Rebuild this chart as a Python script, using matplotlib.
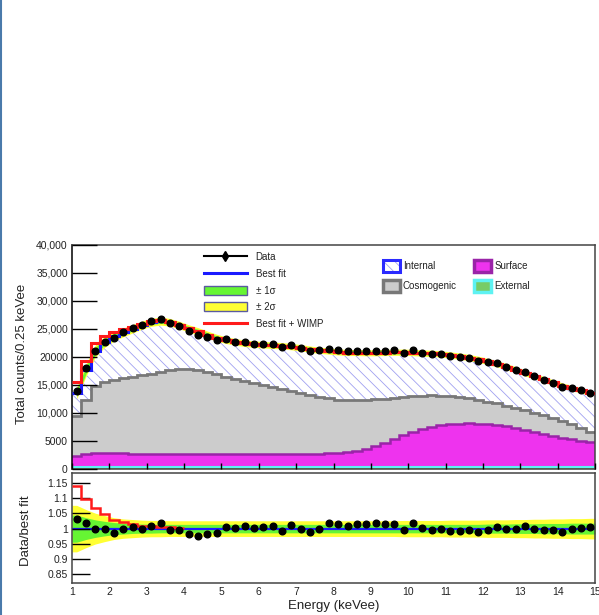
import numpy as np
import matplotlib
matplotlib.use("Agg")
import matplotlib.pyplot as plt
from matplotlib.patches import Rectangle
from matplotlib.lines import Line2D
from matplotlib.legend_handler import HandlerTuple

plt.rcParams['font.family'] = ['Liberation Sans', 'DejaVu Sans']
plt.rcParams['hatch.linewidth'] = 0.6

# ---- binning: 0.25 keVee bins from 1 to 15 keVee ----
bin_edges = np.arange(1.0, 15.0 + 1e-9, 0.25)
bin_centers = 0.5 * (bin_edges[:-1] + bin_edges[1:])

# ---- measured spectrum (counts per bin) ----
data_counts = [13980, 18000, 21100, 22700, 23320, 24400, 25200, 25700, 26440, 26850, 26120, 25620,
               24620, 23990, 23540, 23120, 23140, 22750, 22650, 22350, 22330, 22300, 21850, 22110,
               21590, 21140, 21180, 21470, 21190, 20990, 21150, 21060, 21140, 21090, 21200, 20750,
               21200, 20760, 20530, 20550, 20190, 19990, 19800, 19370, 19100, 18880, 18300, 17730,
               17300, 16580, 15920, 15360, 14720, 14450, 14090, 13630]

# ---- background model components (counts per bin) ----
external_counts = [400, 400, 400, 400, 400, 400, 400, 400, 400, 400, 400, 400,
                   400, 400, 400, 400, 400, 400, 400, 400, 400, 400, 400, 400,
                   400, 400, 400, 400, 400, 400, 400, 400, 400, 400, 400, 400,
                   400, 400, 400, 400, 400, 400, 400, 400, 400, 400, 400, 400,
                   400, 400, 400, 400, 400, 400, 400, 400]
surface_counts = [2000, 2350, 2450, 2450, 2400, 2400, 2350, 2350, 2300, 2300, 2250, 2250,
                  2200, 2200, 2200, 2200, 2200, 2200, 2250, 2250, 2250, 2300, 2300, 2300,
                  2300, 2350, 2350, 2400, 2450, 2550, 2800, 3150, 3650, 4250, 4950, 5650,
                  6250, 6750, 7150, 7400, 7600, 7700, 7750, 7700, 7600, 7450, 7200, 6950,
                  6600, 6250, 5900, 5550, 5200, 4900, 4650, 4350]
cosmogenic_counts = [7000, 9500, 12050, 12650, 13150, 13450, 13750, 13950, 14300, 14600, 14950, 15250,
                     15300, 15100, 14700, 14300, 13850, 13450, 13000, 12700, 12350, 11950, 11600, 11300,
                     10850, 10500, 10100, 9800, 9550, 9300, 9050, 8800, 8400, 7900, 7350, 6800,
                     6350, 5950, 5600, 5300, 4950, 4700, 4450, 4250, 4050, 3850, 3700, 3550,
                     3450, 3400, 3300, 3200, 3050, 2750, 2350, 1850]
internal_counts = [4160, 5410, 6200, 7200, 7750, 8150, 8550, 9000, 9200, 9100, 8600, 7800,
                   7200, 6900, 6700, 6550, 6550, 6650, 6800, 6950, 7200, 7450, 7700, 7850,
                   8100, 8150, 8350, 8450, 8500, 8550, 8550, 8400, 8300, 8250, 8150, 8000,
                   7800, 7600, 7500, 7450, 7400, 7350, 7300, 7250, 7150, 7100, 7000, 6850,
                   6700, 6550, 6400, 6300, 6250, 6400, 6650, 6950]

# ---- WIMP signal added on top of the best fit (counts per bin) ----
wimp_counts = [1925, 1713, 1414, 1067, 711, 512, 351, 231, 183, 132, 105, 77] + [0] * 44

# ---- relative uncertainty of the best fit (fractional half-widths) ----
band_1sigma = [0.045, 0.036, 0.029, 0.024, 0.020, 0.018, 0.016, 0.015, 0.015, 0.014, 0.014, 0.014,
               0.014, 0.014, 0.014, 0.014, 0.014, 0.014, 0.014, 0.014, 0.014, 0.014, 0.014, 0.014,
               0.014, 0.014, 0.014, 0.014, 0.014, 0.014, 0.014, 0.014, 0.014, 0.014, 0.014, 0.014,
               0.014, 0.014, 0.014, 0.014, 0.014, 0.014, 0.014, 0.014, 0.015, 0.015, 0.015, 0.016,
               0.016, 0.016, 0.017, 0.017, 0.017, 0.018, 0.018, 0.018]
band_2sigma = [0.077, 0.063, 0.051, 0.043, 0.036, 0.032, 0.030, 0.028, 0.027, 0.027, 0.026, 0.026,
               0.026, 0.026, 0.026, 0.026, 0.026, 0.026, 0.026, 0.026, 0.026, 0.026, 0.026, 0.026,
               0.026, 0.026, 0.026, 0.026, 0.026, 0.026, 0.026, 0.026, 0.026, 0.026, 0.026, 0.027,
               0.027, 0.027, 0.027, 0.027, 0.028, 0.028, 0.028, 0.028, 0.029, 0.029, 0.029, 0.030,
               0.030, 0.031, 0.031, 0.032, 0.032, 0.033, 0.033, 0.034]

# ---- axis ticks ----
count_ticks = [0, 5000, 10000, 15000, 20000, 25000, 30000, 35000, 40000]
count_tick_labels = ["0", "5000", "10,000", "15,000", "20000", "25,000", "30,000", "35,000", "40,000"]
ratio_ticks = [0.85, 0.9, 0.95, 1.0, 1.05, 1.1, 1.15]
ratio_tick_labels = ["0.85", "0.9", "0.95", "1", "1.05", "1.1", "1.15"]
energy_ticks = list(range(1, 16))

# ---- colours ----
C_GREEN = '#66f533'
C_YELLOW = '#ffff33'
C_BLUE = '#1a1aff'
C_RED = '#ff1a1a'
C_HATCH = '#a0a0f0'
C_GRAY_FILL = '#cccccc'
C_GRAY_EDGE = '#787878'
C_MAG_FILL = '#ee33ee'
C_MAG_EDGE = '#9a24a8'
C_EXT_FILL = '#77cc66'
C_EXT_EDGE = '#5ef2f2'
C_TEXT = '#222222'
C_FRAME = '#444444'

ext = np.array(external_counts, float)
surf_top = ext + np.array(surface_counts, float)
cosmo_top = surf_top + np.array(cosmogenic_counts, float)
best_fit = cosmo_top + np.array(internal_counts, float)
wimp = np.array(wimp_counts, float)
fit_wimp = best_fit + wimp
data = np.array(data_counts, float)
b1 = np.array(band_1sigma)
b2 = np.array(band_2sigma)

W, H = 599, 615
fig = plt.figure(figsize=(W / 100, H / 100), dpi=100)


def axes_px(left, top, right, bottom):
    return fig.add_axes([left / W, 1 - bottom / H, (right - left) / W, (bottom - top) / H])


ax = axes_px(72, 245, 595, 469)
axr = axes_px(72, 473.3, 595, 582.7)

# ---------------- upper panel: spectrum ----------------
ax.stairs(best_fit, bin_edges, baseline=cosmo_top, fill=True, facecolor='none',
          edgecolor=C_HATCH, hatch='\\\\\\', linewidth=0, zorder=1.0)
ax.stairs(cosmo_top, bin_edges, baseline=0, fill=True, color=C_GRAY_FILL, zorder=1.1)
ax.stairs(cosmo_top, bin_edges, baseline=None, color=C_GRAY_EDGE, lw=2.0, zorder=1.2)
ax.stairs(surf_top, bin_edges, baseline=0, fill=True, color=C_MAG_FILL, zorder=1.3)
ax.stairs(surf_top, bin_edges, baseline=None, color=C_MAG_EDGE, lw=1.8, zorder=1.4)
ax.stairs(ext, bin_edges, baseline=0, fill=True, color=C_EXT_FILL, zorder=1.5)
ax.stairs(ext, bin_edges, baseline=None, color=C_EXT_EDGE, lw=1.5, zorder=1.6)

ax.fill_between(bin_centers, best_fit * (1 - b2), best_fit * (1 + b2), color=C_YELLOW, lw=0, zorder=2.0)
ax.fill_between(bin_centers, best_fit * (1 - b1), best_fit * (1 + b1), color=C_GREEN, lw=0, zorder=2.1)
ax.stairs(best_fit, bin_edges, baseline=None, color=C_BLUE, lw=2.2, zorder=3.0)
ax.stairs(fit_wimp, bin_edges, baseline=None, color=C_RED, lw=2.2, zorder=3.1)
ax.plot(bin_centers, data, 'o', color='black', ms=4.8, zorder=4)

ax.set_xlim(1, 15)
ax.set_ylim(0, 40000)
ax.set_yticks(count_ticks)
ax.set_yticklabels(count_tick_labels)
ax.set_xticks(energy_ticks)
ax.tick_params(axis='y', direction='in', length=18, width=1.0, labelsize=7.5,
               pad=3, colors='black', labelcolor=C_TEXT)
ax.tick_params(axis='x', direction='in', length=4, width=1.0, labelbottom=False, colors='black')
ax.set_axisbelow(False)
for s in ax.spines.values():
    s.set_color(C_FRAME)
    s.set_linewidth(1.1)
ax.spines['left'].set_color('black')

# legends
h_data = Line2D([], [], color='black', lw=1.5, marker='d', ms=5)
h_fit = Line2D([], [], color=C_BLUE, lw=2.2)
h_1s = Rectangle((0, 0), 1, 1, facecolor=C_GREEN, edgecolor='#5a5aa0', lw=1.0)
h_2s = Rectangle((0, 0), 1, 1, facecolor=C_YELLOW, edgecolor='#5a5aa0', lw=1.0)
h_wimp = Line2D([], [], color=C_RED, lw=2.2)
leg1 = ax.legend([h_data, h_fit, h_1s, h_2s, h_wimp],
                 ['Data', 'Best fit', '± 1σ', '± 2σ', 'Best fit + WIMP'],
                 loc='upper left', bbox_to_anchor=(204 / W, 1 - 252.3 / H),
                 bbox_transform=fig.transFigure, frameon=False, fontsize=7,
                 handlelength=4.4, handleheight=1.1, handletextpad=0.9,
                 labelspacing=0.68, borderpad=0, borderaxespad=0)
for t in leg1.get_texts():
    t.set_color(C_TEXT)
ax.add_artist(leg1)

h_int = (Rectangle((0, 0), 1, 1, facecolor='white', edgecolor=C_HATCH, hatch='\\\\\\', lw=0),
         Rectangle((0, 0), 1, 1, facecolor='none', edgecolor='#2a2aff', lw=2.2))
h_cos = Rectangle((0, 0), 1, 1, facecolor=C_GRAY_FILL, edgecolor=C_GRAY_EDGE, lw=2.5)
h_sur = Rectangle((0, 0), 1, 1, facecolor=C_MAG_FILL, edgecolor=C_MAG_EDGE, lw=2.5)
h_ext = Rectangle((0, 0), 1, 1, facecolor=C_EXT_FILL, edgecolor=C_EXT_EDGE, lw=2.5)
leg2 = ax.legend([h_int, h_cos, h_sur, h_ext],
                 ['Internal', 'Cosmogenic', 'Surface', 'External'],
                 handler_map={tuple: HandlerTuple(ndivide=1)},
                 loc='upper left', bbox_to_anchor=(383 / W, 1 - 260.3 / H),
                 bbox_transform=fig.transFigure, frameon=False, fontsize=7, ncol=2,
                 handlelength=1.75, handleheight=1.45, handletextpad=0.3,
                 labelspacing=0.85, columnspacing=1.8, borderpad=0, borderaxespad=0)
for t in leg2.get_texts():
    t.set_color(C_TEXT)

# ---------------- lower panel: data / best fit ----------------
xb = np.r_[bin_edges[0], bin_centers, bin_edges[-1]]
w2 = np.r_[b2[0], b2, b2[-1]]
w1 = np.r_[b1[0], b1, b1[-1]]
axr.fill_between(xb, 1 - w2, 1 + w2, color=C_YELLOW, lw=0, zorder=1)
axr.fill_between(xb, 1 - w1, 1 + w1, color=C_GREEN, lw=0, zorder=1.1)
axr.axhline(1.0, color=C_BLUE, lw=1.6, zorder=2)
n_sig = int(np.count_nonzero(wimp))
axr.stairs(fit_wimp[:n_sig] / best_fit[:n_sig], bin_edges[:n_sig + 1], baseline=None,
           color=C_RED, lw=1.8, zorder=3)
axr.plot(bin_centers, data / best_fit, 'o', color='black', ms=4.8, zorder=4)

axr.set_xlim(1, 15)
axr.set_ylim(0.821, 1.183)
axr.set_yticks(ratio_ticks)
axr.set_yticklabels(ratio_tick_labels)
axr.set_xticks(energy_ticks)
axr.set_xticklabels([str(e) for e in energy_ticks])
axr.tick_params(axis='y', direction='in', length=13, width=1.0, labelsize=7.5,
                pad=3, colors='black', labelcolor=C_TEXT)
axr.tick_params(axis='x', direction='in', length=0, labelsize=7.5, pad=3, labelcolor=C_TEXT)
axr.set_axisbelow(False)
for s in axr.spines.values():
    s.set_color(C_FRAME)
    s.set_linewidth(1.1)

# axis titles
fig.text(22 / W, 1 - 354 / H, 'Total counts/0.25 keVee', rotation=90, ha='center', va='center',
         fontsize=9.5, color=C_TEXT)
fig.text(26.5 / W, 1 - 531 / H, 'Data/best fit', rotation=90, ha='center', va='center',
         fontsize=9.5, color=C_TEXT)
fig.text(333.5 / W, 1 - 605.5 / H, 'Energy (keVee)', ha='center', va='center',
         fontsize=9.5, color=C_TEXT)

# page margin rule on the left
fig.add_artist(Line2D([1 / W, 1 / W], [0, 1], transform=fig.transFigure, color='#4a7aab', lw=1.5))

fig.savefig('out.png', dpi=100)
